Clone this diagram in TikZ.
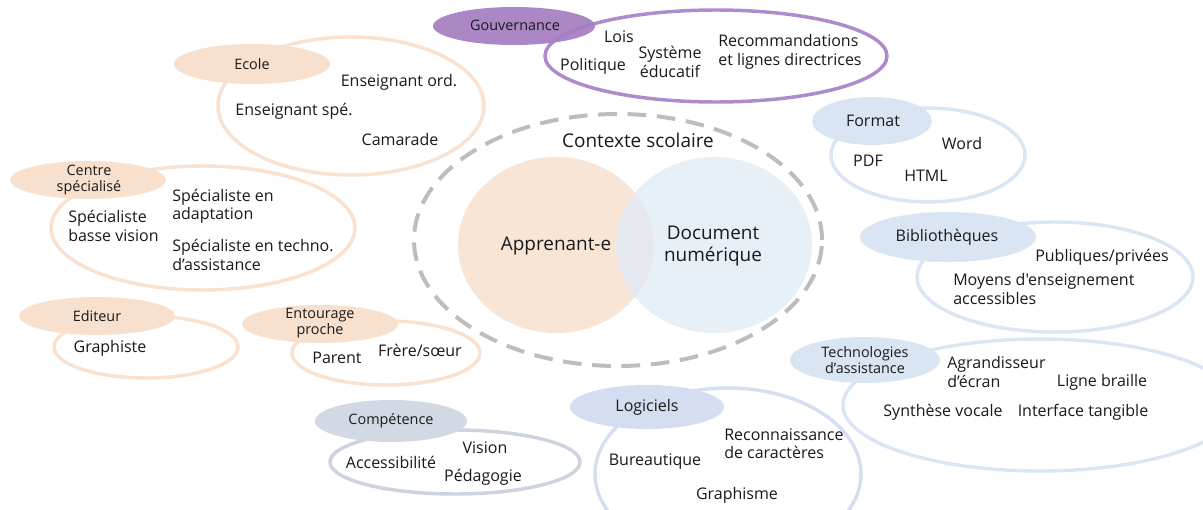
\documentclass[tikz,border=0pt]{standalone}
\usepackage{fontspec}
\setmainfont{Open Sans}[Ligatures=TeXOff]
\usetikzlibrary{shapes.geometric}
\definecolor{peachfill}{HTML}{F8E0CE}
\definecolor{peachline}{HTML}{FAE2D1}
\definecolor{centerpeach}{HTML}{F9E5D6}
\definecolor{bluefill}{HTML}{DAE5F3}
\definecolor{blueline}{HTML}{DBE6F4}
\definecolor{centerblue}{HTML}{E1EBF6}
\definecolor{logfill}{HTML}{D5DEF1}
\definecolor{logline}{HTML}{D6DFF1}
\definecolor{compfill}{HTML}{D3D9E4}
\definecolor{compline}{HTML}{CDD4E0}
\definecolor{purplefill}{HTML}{A47EC1}
\definecolor{purpleline}{HTML}{AE8BCB}
\definecolor{dashgray}{HTML}{BDBDBD}
\definecolor{txt}{HTML}{1A1A1A}
\begin{document}
\begin{tikzpicture}[x=0.75pt,y=-0.75pt,
  ell/.style n args={2}{ellipse, inner sep=0pt, outer sep=0pt, minimum width={#1*1.5pt}, minimum height={#2*1.5pt}},
  ring/.style={line width=2.6pt},
  big/.style={font=\fontsize{14.2}{16.8}\selectfont, text=txt, align=center, inner sep=0pt},
  item/.style={font=\fontsize{12}{13.8}\selectfont, text=txt, align=center, inner sep=0pt},
  itemL/.style={item, align=left, anchor=west},
  lbl/.style={font=\fontsize{10.8}{12.3}\selectfont, text=txt, align=center, inner sep=0pt},
  lblb/.style={font=\fontsize{12}{14}\selectfont, text=txt, align=center, inner sep=0pt},
]
\path[use as bounding box, clip] (0,0) rectangle (1203,510);
\fill[white] (0,0) rectangle (1203,510);

% central context
\node[ell={204}{126}, draw=dashgray, line width=3pt, dash pattern=on 14pt off 8pt] (ctx) at (618,240) {};
\node[ell={98}{88}, fill=centerpeach] (appC) at (556,245) {};
\node[ell={98}{88}, fill=centerblue, fill opacity=0.8] (docC) at (714,245) {};

% rings
\node[ell={171}{46}, draw=purpleline, ring] (gouvR) at (716,56) {};
\node[ell={133}{69}, draw=peachline, ring] (ecoleR) at (351,106) {};
\node[ell={152}{62}, draw=peachline, ring] (centreR) at (203,228) {};
\node[ell={92}{31}, draw=peachline, ring] (editR) at (146,347) {};
\node[ell={94}{32}, draw=peachline, ring] (entR) at (386,353) {};
\node[ell={125}{32}, draw=compline, ring] (compR) at (455,462) {};
\node[ell={133}{86}, draw=logline, ring] (logR) at (728,474) {};
\node[ell={197}{66}, draw=blueline, ring] (techR) at (1040,405) {};
\node[ell={97}{47}, draw=blueline, ring] (formR) at (928,155) {};
\node[ell={138}{55}, draw=blueline, ring] (bibR) at (1055,277) {};

% label fills
\node[ell={81}{19}, fill=purplefill, fill opacity=0.92] (gouvF) at (514,26) {};
\node[ell={78}{20}, fill=peachfill] (ecoleF) at (252,64) {};
\node[ell={78}{19}, fill=peachfill] (centreF) at (88,180) {};
\node[ell={78}{19}, fill=peachfill] (editF) at (97,316) {};
\node[ell={78}{19}, fill=peachfill] (entF) at (320,324) {};
\node[ell={76}{21}, fill=compfill] (compF) at (391,421) {};
\node[ell={77}{22}, fill=logfill] (logF) at (647,407) {};
\node[ell={75}{23}, fill=bluefill] (techF) at (865,360) {};
\node[ell={60}{24}, fill=bluefill] (formF) at (872,121) {};
\node[ell={88}{25}, fill=bluefill] (bibF) at (948,237) {};

% central texts
\node[big] (ctxT) at (638,140) {Contexte scolaire};
\node[big] (appT) at (556,246) {Apprenant-e};
\node[big] (docT) at (713,246) {Document\\numérique};

% Gouvernance
\node[lbl] (gouvT) at (515,25) {Gouvernance};
\node[item] (lois) at (619,37) {Lois};
\node[item] (polit) at (593,66) {Politique};
\node[item] (syst) at (670,62) {Système\\éducatif};
\node[itemL] (recom) at (718,52) {Recommandations\\et lignes directrices};

% Ecole
\node[lbl] (ecoleT) at (252,64) {Ecole};
\node[item] (ensord) at (399,82) {Enseignant ord.};
\node[item] (ensspe) at (294,111) {Enseignant spé.};
\node[item] (cam) at (400,140) {Camarade};

% Centre specialise
\node[lbl] (centreT) at (89,180) {Centre\\spécialisé};
\node[itemL] (spbv) at (68,226) {Spécialiste\\basse vision};
\node[itemL] (spad) at (172,206) {Spécialiste en\\adaptation};
\node[itemL] (spte) at (172,255) {Spécialiste en techno.\\d’assistance};

% Editeur
\node[lbl] (editT) at (97,316) {Editeur};
\node[item] (graphiste) at (110,348) {Graphiste};

% Entourage
\node[lbl] (entT) at (320,323) {Entourage\\proche};
\node[item] (parent) at (337,358) {Parent};
\node[item] (frere) at (420,350) {Frère/sœur};

% Competence
\node[lbl] (compT) at (391,421) {Compétence};
\node[item] (access) at (391,462) {Accessibilité};
\node[item] (vision) at (485,448) {Vision};
\node[item] (peda) at (483,477) {Pédagogie};

% Logiciels
\node[lblb] (logT) at (647,407) {Logiciels};
\node[item] (bureau) at (655,462) {Bureautique};
\node[itemL] (ocr) at (724,444) {Reconnaissance\\de caractères};
\node[item] (graphisme) at (737,495) {Graphisme};

% Technologies
\node[lbl] (techT) at (865,360) {Technologies\\d’assistance};
\node[itemL] (agr) at (947,372) {Agrandisseur\\d’écran};
\node[item] (braille) at (1102,382) {Ligne braille};
\node[item] (synth) at (943,412) {Synthèse vocale};
\node[item] (tang) at (1083,412) {Interface tangible};

% Format
\node[lblb] (formT) at (873,121) {Format};
\node[item] (word) at (962,143) {Word};
\node[item] (pdf) at (868,161) {PDF};
\node[item] (html) at (926,176) {HTML};

% Bibliotheques
\node[lblb] (bibT) at (947,237) {Bibliothèques};
\node[item] (pub) at (1102,257) {Publiques/privées};
\node[itemL] (moyens) at (953,289) {Moyens d'enseignement\\accessibles};
\end{tikzpicture}
\end{document}
